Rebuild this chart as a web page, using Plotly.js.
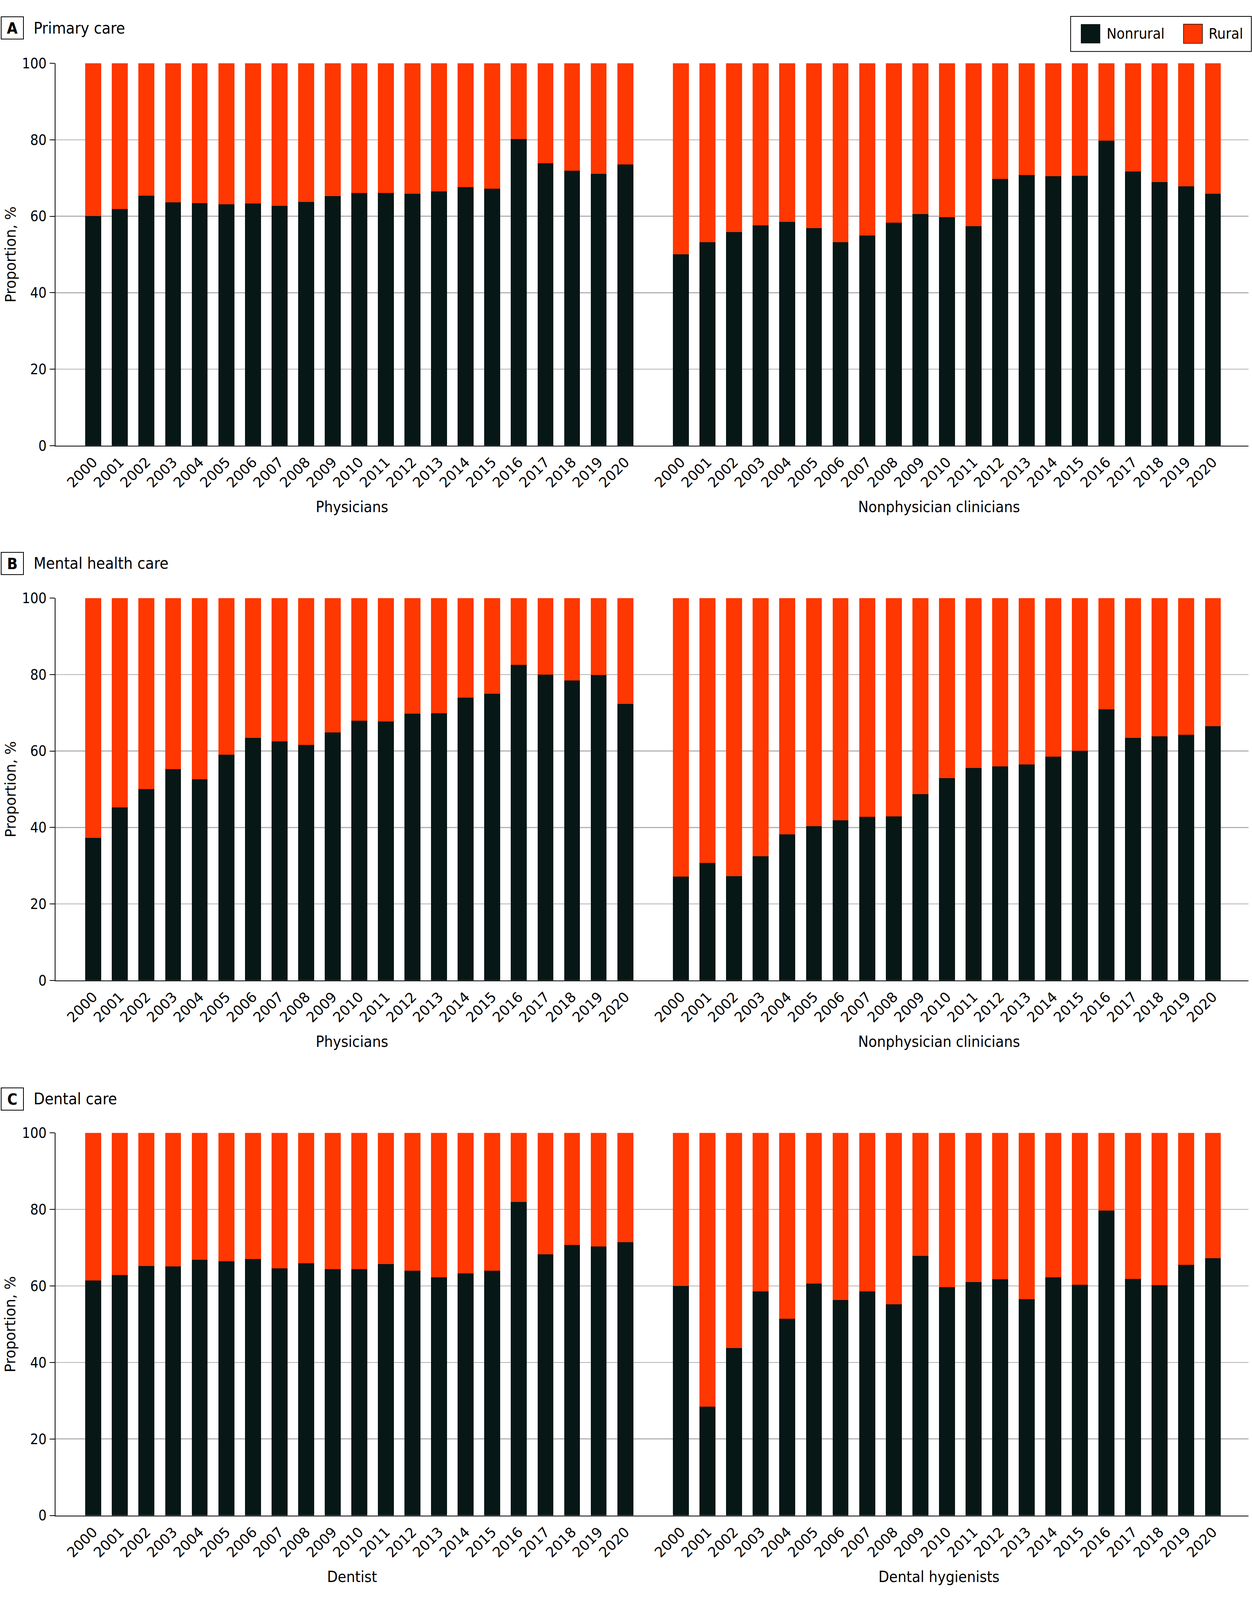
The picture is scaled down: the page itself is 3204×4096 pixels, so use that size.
<!DOCTYPE html>
<html><head><meta charset="utf-8">
<script src="https://cdn.plot.ly/plotly-3.0.1.min.js"></script>
<style>html,body{margin:0;padding:0;background:#fff}#chart{width:3204px;height:4096px}</style>
</head><body><div id="chart"></div>
<script>
// ---------------- data ----------------
const years = ['2000','2001','2002','2003','2004','2005','2006','2007','2008','2009','2010',
               '2011','2012','2013','2014','2015','2016','2017','2018','2019','2020'];
const seriesNames = ['Nonrural', 'Rural'];
const panelLetters = ['A', 'B', 'C'];
const panelTitles = ['Primary care', 'Mental health care', 'Dental care'];
const groupLabels = [['Physicians', 'Nonphysician clinicians'],
                     ['Physicians', 'Nonphysician clinicians'],
                     ['Dentist', 'Dental hygienists']];
const yTitle = 'Proportion, %';
const yTickVals = [0, 20, 40, 60, 80, 100];

// A. Primary care
const primaryPhysNonrural = [60.1,61.9,65.4,63.6,63.4,63.1,63.3,62.7,63.7,65.3,66.1,66.1,65.9,66.5,67.6,67.2,80.2,73.9,71.9,71.1,73.5];
const primaryPhysRural    = [39.9,38.1,34.6,36.4,36.6,36.9,36.7,37.3,36.3,34.7,33.9,33.9,34.1,33.5,32.4,32.8,19.8,26.1,28.1,28.9,26.5];
const primaryNonphysNonrural = [50.0,53.2,55.9,57.6,58.5,56.9,53.2,54.9,58.3,60.6,59.7,57.4,69.8,70.8,70.5,70.6,79.8,71.7,68.9,67.8,65.9];
const primaryNonphysRural    = [50.0,46.8,44.1,42.4,41.5,43.1,46.8,45.1,41.7,39.4,40.3,42.6,30.2,29.2,29.5,29.4,20.2,28.3,31.1,32.2,34.1];
// B. Mental health care
const mentalPhysNonrural = [37.3,45.2,50.0,55.3,52.6,59.0,63.4,62.5,61.6,64.9,67.9,67.7,69.8,69.9,74.0,75.0,82.5,80.0,78.5,79.9,72.3];
const mentalPhysRural    = [62.7,54.8,50.0,44.7,47.4,41.0,36.6,37.5,38.4,35.1,32.1,32.3,30.2,30.1,26.0,25.0,17.5,20.0,21.5,20.1,27.7];
const mentalNonphysNonrural = [27.2,30.7,27.3,32.5,38.2,40.3,41.9,42.8,42.9,48.7,52.9,55.6,56.0,56.5,58.5,60.1,70.9,63.4,63.8,64.2,66.5];
const mentalNonphysRural    = [72.8,69.3,72.7,67.5,61.8,59.7,58.1,57.2,57.1,51.3,47.1,44.4,44.0,43.5,41.5,39.9,29.1,36.6,36.2,35.8,33.5];
// C. Dental care
const dentistNonrural = [61.4,62.9,65.2,65.1,66.8,66.4,67.0,64.6,65.9,64.4,64.4,65.7,64.0,62.2,63.3,64.0,82.0,68.3,70.7,70.3,71.4];
const dentistRural    = [38.6,37.1,34.8,34.9,33.2,33.6,33.0,35.4,34.1,35.6,35.6,34.3,36.0,37.8,36.7,36.0,18.0,31.7,29.3,29.7,28.6];
const hygienistNonrural = [60.0,28.5,43.8,58.6,51.4,60.6,56.3,58.6,55.2,67.9,59.7,61.0,61.7,56.5,62.2,60.3,79.7,61.8,60.2,65.5,67.3];
const hygienistRural    = [40.0,71.5,56.2,41.4,48.6,39.4,43.7,41.4,44.8,32.1,40.3,39.0,38.3,43.5,37.8,39.7,20.3,38.2,39.8,34.5,32.7];

const panelData = [
  [[primaryPhysNonrural, primaryPhysRural], [primaryNonphysNonrural, primaryNonphysRural]],
  [[mentalPhysNonrural, mentalPhysRural], [mentalNonphysNonrural, mentalNonphysRural]],
  [[dentistNonrural, dentistRural], [hygienistNonrural, hygienistRural]]
];

// ---------------- style ----------------
const W = 3204, H = 4096;
const colors = ['#071716', '#ff3700'];
const condensed = '"DejaVu Sans Condensed", "Liberation Sans Narrow", "DejaVu Sans", sans-serif';
const regular = '"DejaVu Sans", sans-serif';
const gridColor = '#b3b3b3';

const xDoms = [[141.6 / W, 1668.2 / W], [1668.2 / W, 3194.9 / W]];
const xRanges = [[-1.427, 21.0], [-1.094, 21.336]];
// plot top (100) and bottom (0) in px
const yPx = [[162.1, 1140.7], [1531.2, 2509.7], [2900.3, 3879.6]];
const titleCenterPx = [71.6, 1442, 2813];
const groupLabelX = [0.4976, 0.4813];

const traces = [];
const layout = {
  width: W, height: H,
  margin: {l: 0, r: 0, t: 0, b: 0, pad: 0},
  paper_bgcolor: '#fff', plot_bgcolor: 'rgba(0,0,0,0)',
  barmode: 'stack', bargap: 0.4,
  showlegend: false,
  hovermode: false,
  font: {family: condensed, color: '#000', size: 36},
  annotations: [], shapes: []
};

for (let p = 0; p < 3; p++) {
  const yDom = [1 - yPx[p][1] / H, 1 - yPx[p][0] / H];
  for (let g = 0; g < 2; g++) {
    const idx = p * 2 + g + 1;
    const xName = idx === 1 ? 'x' : 'x' + idx;
    const yName = idx === 1 ? 'y' : 'y' + idx;
    const xKey = idx === 1 ? 'xaxis' : 'xaxis' + idx;
    const yKey = idx === 1 ? 'yaxis' : 'yaxis' + idx;
    for (let s = 0; s < 2; s++) {
      traces.push({
        type: 'bar', name: seriesNames[s], x: years, y: panelData[p][g][s],
        xaxis: xName, yaxis: yName,
        marker: {color: colors[s], line: {width: 0}},
        showlegend: false, hoverinfo: 'skip'
      });
    }
    layout[xKey] = {
      domain: xDoms[g], anchor: yName, type: 'category',
      range: xRanges[g], fixedrange: true,
      showline: true, linecolor: '#000', linewidth: 2,
      showgrid: false, zeroline: false, ticks: '',
      tickangle: -45, ticklabelstandoff: 5,
      tickfont: {family: regular, size: 36, color: '#000'},
      automargin: false
    };
    layout[yKey] = {
      domain: yDom, anchor: xName, range: [0, 100], fixedrange: true,
      tickvals: yTickVals, showgrid: true, gridcolor: gridColor, gridwidth: 2.5,
      zeroline: false, automargin: false,
      showline: g === 0, linecolor: '#000', linewidth: 2,
      ticks: g === 0 ? 'outside' : '', ticklen: 13, tickwidth: 2, tickcolor: '#000',
      showticklabels: g === 0,
      tickfont: {family: condensed, size: 36.7, color: '#000'}
    };
    // group label under each half
    layout.annotations.push({
      text: groupLabels[p][g], xref: xName + ' domain', yref: yName + ' domain',
      x: groupLabelX[g], y: -0.1598, xanchor: 'center', yanchor: 'middle',
      showarrow: false, font: {family: condensed, size: 39.5, color: '#000'}
    });
  }
  // y title
  layout.annotations.push({
    text: yTitle, xref: 'paper', yref: (p === 0 ? 'y' : 'y' + (p * 2 + 1)) + ' domain',
    x: 27.2 / W, y: 0.5, xanchor: 'center', yanchor: 'middle', textangle: -90,
    showarrow: false, font: {family: regular, size: 36.5, color: '#000'}
  });
  // panel letter box
  layout.annotations.push({
    text: '<b>' + panelLetters[p] + '</b>', xref: 'paper', yref: 'paper',
    x: 1.5 / W, y: 1 - titleCenterPx[p] / H, xanchor: 'left', yanchor: 'middle',
    width: 53, height: 53, borderpad: 1, borderwidth: 2, bordercolor: '#000',
    showarrow: false, font: {family: condensed, size: 39.5, color: '#000'}
  });
  // panel title
  layout.annotations.push({
    text: panelTitles[p], xref: 'paper', yref: 'paper',
    x: 84 / W, y: 1 - titleCenterPx[p] / H, xanchor: 'left', yanchor: 'middle',
    showarrow: false, font: {family: condensed, size: 41, color: '#000'}
  });
}

// legend (box, swatches, labels)
layout.shapes.push({type: 'rect', xref: 'paper', yref: 'paper',
  x0: 2739.8 / W, x1: 3202.3 / W, y0: 1 - 131.7 / H, y1: 1 - 42 / H,
  line: {color: '#000', width: 2}, fillcolor: 'rgba(0,0,0,0)'});
const swatchX = [[2766, 2815.6], [3028.6, 3077.2]];
const labelX = [2830.3, 3091.2];
for (let s = 0; s < 2; s++) {
  layout.shapes.push({type: 'rect', xref: 'paper', yref: 'paper',
    x0: swatchX[s][0] / W, x1: swatchX[s][1] / W, y0: 1 - 111.1 / H, y1: 1 - 61.7 / H,
    line: {color: '#111', width: s === 1 ? 1.5 : 0}, fillcolor: colors[s]});
  layout.annotations.push({
    text: seriesNames[s], xref: 'paper', yref: 'paper',
    x: labelX[s] / W, y: 1 - 86.4 / H, xanchor: 'left', yanchor: 'middle',
    showarrow: false, font: {family: condensed, size: 38, color: '#000'}
  });
}

Plotly.newPlot('chart', traces, layout, {staticPlot: true, displayModeBar: false});
</script>
</body></html>
